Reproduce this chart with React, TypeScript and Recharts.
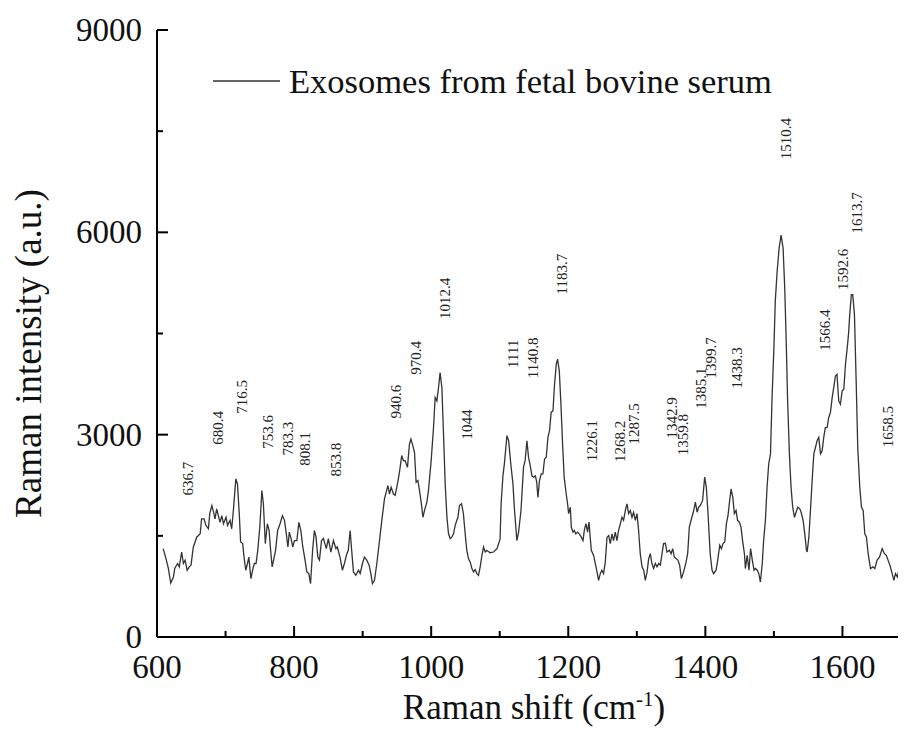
import React from 'react';
import { ComposedChart, Line, Scatter, XAxis, YAxis, Label, Customized } from 'recharts';

const shift = [609,613,616.5,620,624,626,630,632.5,636,638.5,641,644,647,649.6,653,658,663,665,668.6,671.5,675,677,680,682,684.7,687,689.5,692,694.5,697,700.7,703,706.6,709,711.4,715,717.4,720,722,725,727,729.5,732,734,737,740,742,744.5,747,750,753,755.2,758,761,763.5,766,768,771,773,776,779.5,783,786,788,791,793,795.6,798,800.5,804,807,809.8,812.7,816,818.5,821.5,824,827,829.6,832,834.6,837,840,842.8,847,850,853.6,857.4,861,863,867,870.5,873.4,877,879,881.8,884,886.6,890,894,896.4,899.7,902.6,906,909.5,912,914.3,917.3,920.7,924.6,928,931.9,934.3,936.8,939.2,941.6,945,947.4,950.8,953.7,957,959.5,962,965.4,968.3,970.4,973.3,975.7,978,980.6,983,985.4,988,990.2,993.7,996,1000,1003.4,1005.8,1008.3,1010.7,1013,1015.6,1018,1020.4,1023,1025.3,1027.7,1030,1032.6,1035,1037.5,1039,1041.3,1044.3,1047,1049.6,1052,1054.5,1057,1059.4,1061.8,1064.2,1066.7,1069,1071.5,1074,1076.4,1078.8,1081,1086,1091,1096,1100.5,1102,1104.7,1107,1110.5,1113,1116.4,1119.3,1121.6,1125,1127.5,1131,1134.7,1137,1139.7,1142,1144.5,1147,1149.5,1152,1154,1155.7,1158,1160.6,1163,1165.4,1167.9,1170.3,1172.7,1175,1177.7,1180,1182.5,1184.4,1186.9,1189.3,1191.7,1194,1197,1199,1200.5,1203,1204.4,1206.9,1208.8,1211,1213.6,1216,1219,1221.5,1223.4,1225.8,1228.2,1230.2,1232,1233.6,1237,1239.4,1241.9,1244.2,1246.7,1249,1251.5,1254,1256.5,1259,1261.3,1263.8,1266,1268.6,1271,1273.4,1276,1278.4,1280.7,1283.2,1285.7,1288,1290.5,1293,1295.3,1297.8,1300.3,1302.6,1305,1307.6,1310,1312.4,1315,1317.3,1319.7,1322,1324.5,1327,1329.5,1332,1334.3,1336.8,1339,1341.6,1344,1347.5,1350,1352.3,1354.7,1357.7,1360,1362.5,1365,1368.3,1371.8,1374.2,1376.6,1379.6,1383,1385.4,1388,1390.2,1392.7,1396,1399,1401.4,1403.9,1407,1409.8,1412,1415.6,1418,1421,1423.4,1425.8,1428.3,1430.7,1433,1435.5,1437.5,1440,1442.3,1444.8,1447,1449.6,1452,1454.5,1457,1458.4,1461,1463.6,1466,1468.5,1471,1473,1475.7,1478,1480.3,1483,1485,1487.6,1490,1492.4,1495,1497.3,1500,1502,1504.7,1507.6,1510.5,1513.4,1515.8,1518.2,1520,1522.6,1525,1527.4,1530,1532.4,1534.8,1537.7,1539.7,1542.6,1545,1547.5,1548.5,1551,1553.3,1555.8,1558.2,1560.6,1563,1565.4,1568,1570.4,1572.7,1575,1577.6,1580,1582.5,1585,1587.3,1589.8,1592,1594.6,1597,1599.6,1602,1604.4,1607,1609,1610.6,1613,1615,1617.5,1620,1622.3,1625.3,1627.7,1630.2,1632.6,1635,1637.5,1640.9,1644.3,1647.2,1650.6,1654,1658,1661.3,1664,1667.6,1670,1672.5,1675,1677.4,1680,1682.3,1684.7,1687,1689.6,1693.4];

const intensity = [1310,1165,1020,800,890,1020,1090,1040,1260,1090,1140,990,1040,1065,1335,1480,1530,1750,1750,1655,1605,1830,1950,1875,1750,1900,1800,1700,1800,1680,1775,1655,1730,1605,1875,2345,2270,1830,1410,1385,1185,990,1090,1185,865,1015,1090,1090,1285,1630,2170,1975,1385,1680,1580,1260,1040,1185,1285,1580,1680,1800,1730,1580,1335,1555,1460,1335,1430,1430,1700,1580,1335,1140,965,940,790,1285,1580,1480,1185,1140,1430,1460,1310,1460,1260,1430,1310,1335,1185,990,1090,1235,1285,1580,1285,965,915,990,940,1090,1185,1140,1065,940,790,840,1090,1430,1730,2050,2145,2245,2120,2220,2120,2100,2270,2440,2690,2615,2615,2515,2860,2935,2835,2735,2294,2320,2170,2000,1775,1875,2000,2170,2615,3105,3550,3500,3700,3920,3700,3010,2270,1775,1530,1460,1480,1530,1655,1730,1775,1950,1975,1830,1530,1285,1160,1110,1015,965,1000,940,915,1040,1210,1335,1260,1285,1250,1260,1310,1450,1975,2390,2590,2985,2910,2540,2270,1875,1430,1555,1875,2515,2615,2910,2665,2540,2390,2370,2390,2295,2070,2320,2420,2420,2640,2665,2960,3060,3330,3355,3750,4045,4120,3945,3450,2860,2370,2120,1975,1830,1925,1630,1555,1580,1530,1555,1530,1480,1430,1580,1680,1555,1705,1480,1285,1210,1090,965,840,940,990,940,1110,1480,1505,1385,1530,1430,1555,1430,1580,1680,1775,1730,1875,1975,1830,1875,1775,1850,1730,1830,1580,1235,1040,990,840,965,1160,1235,1090,1015,1090,1040,1090,1065,1235,1385,1390,1260,1285,1235,1310,1185,1160,1140,1065,865,965,1110,1235,1630,1750,1875,2000,1850,1925,1950,2025,2370,2220,1830,1235,990,940,990,1140,1360,1310,1385,1410,1680,1800,2025,2195,2070,1830,1875,1730,1705,1630,1410,1235,1015,1210,990,1310,1140,990,1015,990,940,815,1090,1430,1730,2220,2565,2715,3550,4290,4980,5420,5765,5960,5765,5175,4290,3500,2715,2220,1925,1775,1850,1925,1900,1850,1730,1530,1285,1260,1480,1875,2320,2715,2810,2910,2960,2715,2760,2960,3105,3105,3255,3330,3550,3700,3870,3895,3500,3450,3650,3675,4045,4290,4510,4780,5075,5075,4780,3795,2810,2220,1925,1875,1530,1480,1235,1015,1040,1015,1140,1185,1310,1235,1210,1110,1040,940,840,940,890,990,965,1040,1015,1065];

const peakLabels = ['636.7','680.4','716.5','753.6','783.3','808.1','853.8','940.6','970.4','1012.4','1044','1111','1140.8','1183.7','1226.1','1268.2','1287.5','1342.9','1359.8','1385.1','1399.7','1438.3','1510.4','1566.4','1592.6','1613.7','1658.5'];
const peakLabelHeights = [2350,3100,3560,3040,2940,2790,2630,3490,4140,5020,3150,4200,4140,5380,2910,2900,3160,3250,3000,3690,4140,3990,7390,4550,5450,6290,3120];

const xTicks = [600,700,800,900,1000,1100,1200,1300,1400,1500,1600,1700];
const yTicks = [0,1500,3000,4500,6000,7500,9000];
const seriesName = 'Exosomes from fetal bovine serum';
const xTitle = 'Raman shift (cm';
const xTitleSup = '-1';
const yTitle = 'Raman intensity (a.u.)';

const spectrum = shift.map((x, i) => ({ x, y: intensity[i] }));
const peaks = peakLabels.map((label, i) => ({ x: parseFloat(label), y: peakLabelHeights[i], label }));

const FONT = '"Liberation Serif", "Times New Roman", serif';

const YTick = (props: any) => {
  const { x, y, payload } = props;
  const major = payload.value % 3000 === 0;
  return (
    <g>
      <line x1={x} x2={x + (major ? 11 : 6)} y1={y} y2={y} stroke="#000" strokeWidth={2} />
      {major && (
        <text x={x - 15} y={y + 11} textAnchor="end" fontSize={33} fontFamily={FONT} fill="#111">
          {payload.value}
        </text>
      )}
    </g>
  );
};

const XTick = (props: any) => {
  const { x, y, payload } = props;
  const major = payload.value % 200 === 0;
  return (
    <g>
      <line x1={x} x2={x} y1={y} y2={y - (major ? 11 : 6)} stroke="#000" strokeWidth={2} />
      {major && (
        <text x={x} y={y + 41} textAnchor="middle" fontSize={33} fontFamily={FONT} fill="#111">
          {payload.value}
        </text>
      )}
    </g>
  );
};

const TopTick = (props: any) => {
  const { x, y, payload } = props;
  const major = payload.value % 200 === 0;
  return <line x1={x} x2={x} y1={y} y2={y + (major ? 11 : 6)} stroke="#000" strokeWidth={2} />;
};

const YTitle = (props: any) => {
  const vb = props.viewBox || { x: 0, y: 22, width: 149, height: 607 };
  const cx = vb.x + 33;
  const cy = vb.y + vb.height / 2 + 20;
  return (
    <text x={cx} y={cy} transform={`rotate(-90, ${cx}, ${cy})`} textAnchor="middle" fontSize={37} fontFamily={FONT} fill="#111">
      {yTitle}
    </text>
  );
};

const XTitle = (props: any) => {
  const vb = props.viewBox || { x: 149, y: 629, width: 754, height: 102 };
  const cx = vb.x + vb.width / 2;
  const cy = vb.y + 82;
  return (
    <text x={cx} y={cy} textAnchor="middle" fontSize={35} fontFamily={FONT} fill="#111">
      <tspan>{xTitle}</tspan>
      <tspan dy={-13} fontSize={21}>{xTitleSup}</tspan>
      <tspan dy={13}>)</tspan>
    </text>
  );
};

const PeakLabel = (props: any) => {
  const { cx, cy, payload } = props;
  if (cx == null || cy == null) return <g />;
  return (
    <text
      x={cx}
      y={cy}
      transform={`rotate(-90, ${cx}, ${cy})`}
      textAnchor="middle"
      dominantBaseline="hanging"
      fontSize={15}
      fontFamily={FONT}
      fill="#222"
    >
      {payload.label}
    </text>
  );
};

const LegendBox = () => (
  <g>
    <line x1={205} x2={272} y1={73} y2={73} stroke="#333" strokeWidth={1.3} />
    <text x={281} y={85} fontSize={34.5} fontFamily={FONT} fill="#111">
      {seriesName}
    </text>
  </g>
);

export default function App() {
  return (
    <div style={{ width: 898, height: 731, overflow: 'hidden', position: 'relative' }}>
      <ComposedChart width={903} height={731} margin={{ top: 22, right: 0, bottom: 0, left: 0 }}>
        <XAxis
          dataKey="x"
          type="number"
          domain={[600, 1700]}
          ticks={xTicks}
          interval={0}
          height={102}
          tickSize={0}
          tickMargin={0}
          tickLine={false}
          tick={<XTick />}
          axisLine={{ stroke: '#000', strokeWidth: 2 }}
          allowDataOverflow
        >
          <Label content={<XTitle />} />
        </XAxis>
        <XAxis
          xAxisId="top"
          orientation="top"
          dataKey="x"
          type="number"
          domain={[600, 1700]}
          ticks={xTicks}
          interval={0}
          height={0}
          tickSize={0}
          tickMargin={0}
          tickLine={false}
          tick={<TopTick />}
          axisLine={{ stroke: '#000', strokeWidth: 2 }}
          allowDataOverflow
        />
        <YAxis
          type="number"
          domain={[0, 9000]}
          ticks={yTicks}
          interval={0}
          width={149}
          tickSize={0}
          tickMargin={0}
          tickLine={false}
          tick={<YTick />}
          axisLine={{ stroke: '#000', strokeWidth: 2 }}
          allowDataOverflow
        >
          <Label content={<YTitle />} />
        </YAxis>
        <Line
          data={spectrum}
          dataKey="y"
          type="linear"
          stroke="#333"
          strokeWidth={1.3}
          dot={false}
          isAnimationActive={false}
          name={seriesName}
        />
        <Scatter data={peaks} dataKey="y" shape={<PeakLabel />} isAnimationActive={false} />
        <Customized component={LegendBox} />
      </ComposedChart>
    </div>
  );
}
